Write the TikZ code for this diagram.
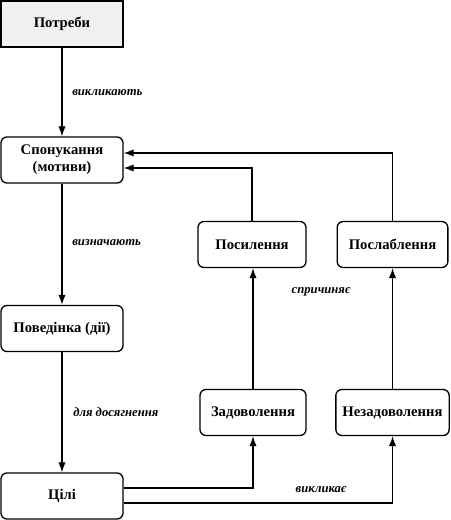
\documentclass[tikz,border=0pt]{standalone}
\usepackage{fontspec}
\setmainfont{Liberation Serif}
\usetikzlibrary{arrows.meta,calc}
\begin{document}
\begin{tikzpicture}[x=0.75pt,y=-0.75pt,
  box/.style={draw,line width=1pt,rounded corners=4.5pt,minimum width=81pt,minimum height=34.5pt,inner sep=1pt,align=center,font=\fontsize{11}{12.5}\selectfont\bfseries},
  lbl/.style={font=\fontsize{9.5}{11}\selectfont\bfseries\itshape,inner sep=0pt},
  arr/.style={line width=1pt,-{Latex[length=7.5pt,width=5.5pt]}}]
\useasboundingbox (0,0) rectangle (450,520);
\node[box,rounded corners=0pt,fill=black!6,minimum width=91.5pt] (potr) at (62,24) {Потреби};
\node[box,minimum width=91.5pt] (spon) at (62,160) {Спонукання\\(мотиви)};
\node[box,minimum width=91.5pt] (pov) at (62,328.5) {Поведінка (дії)};
\node[box,minimum width=91.5pt] (cili) at (62,496) {Цілі};
\node[box,minimum width=81pt] (pos) at (252,244.5) {Посилення};
\node[box,minimum width=83pt] (posl) at (392.5,244.5) {Послаблення};
\node[box,minimum width=79.5pt] (zad) at (253,412.5) {Задоволення};
\node[box,minimum width=85pt] (nezad) at (392.5,412.5) {Незадоволення};
\node[lbl,anchor=west] (l1) at (72,93) {викликають};
\node[lbl,anchor=west] (l2) at (72,243) {визначають};
\node[lbl,anchor=west] (l3) at (73,412) {для досягнення};
\node[lbl] (l4) at (321,292) {спричиняє};
\node[lbl] (l5) at (321,490) {викликає};
\draw[arr] (potr) -- (spon);
\draw[arr] (spon) -- (pov);
\draw[arr] (pov) -- (cili);
\draw[arr] ($(cili.east)+(0,-8)$) -| (zad.south);
\draw[arr] ($(cili.east)+(0,7)$) -| (nezad.south);
\draw[arr] (zad.north) -- (zad.north |- pos.south);
\draw[arr] (nezad.north) -- (nezad.north |- posl.south);
\draw[arr] (pos.north) |- ($(spon.east)+(0,8)$);
\draw[arr] (posl.north) |- ($(spon.east)+(0,-7)$);
\end{tikzpicture}
\end{document}
